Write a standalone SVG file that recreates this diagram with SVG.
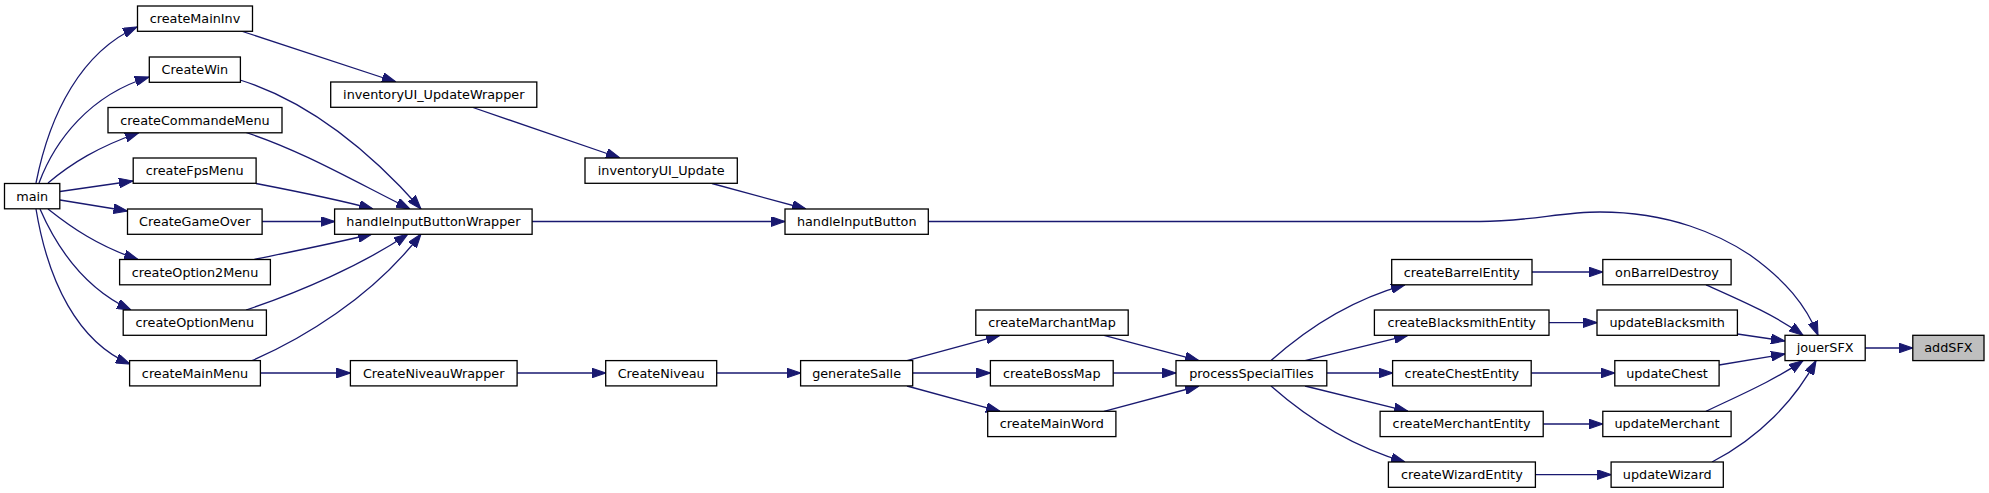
<svg xmlns="http://www.w3.org/2000/svg" width="1989" height="493" viewBox="0 0 1989 493">
<defs>
<style>
.n rect{fill:#ffffff;stroke:#000000;stroke-width:1.3}
.n.hl rect{fill:#bfbfbf}
.n text{font-family:"DejaVu Sans","Liberation Sans",sans-serif;font-size:12.8px;fill:#000000;text-anchor:middle}
.e path{fill:none;stroke:#191970;stroke-width:1.3;marker-end:url(#ah)}
</style>
<marker id="ah" markerUnits="userSpaceOnUse" markerWidth="14" markerHeight="10" viewBox="0 0 13 9" refX="13" refY="4.5" orient="auto">
<path d="M0,0 L13,4.5 L0,9 Z" fill="#191970" stroke="#191970" stroke-width="1"/>
</marker>
</defs>
<rect width="1989" height="493" fill="#ffffff"/>
<g id="connectors" class="e">
<path d="M36,183 C 50,112 82,52 137,27"/>
<path d="M39,183 C 55,140 90,95 149,77"/>
<path d="M48,183 C 72,163 98,147 139,132.5"/>
<path d="M60,191.5 L133,181"/>
<path d="M60,200 L127.5,211"/>
<path d="M48,209 C 72,228 98,246 138,259.5"/>
<path d="M40,209 C 60,255 88,290 131,310"/>
<path d="M36,209 C 48,282 78,342 130,364"/>
<path d="M241,31 L396,82"/>
<path d="M473,107.5 L620,158"/>
<path d="M712,183.5 L806,209"/>
<path d="M240,80 C 320,105 382,165 421,209"/>
<path d="M246,132.5 C 300,150 352,180 410,209"/>
<path d="M256,183.5 C 300,192 340,200 373,209"/>
<path d="M262,221.5 L334.6,221.5"/>
<path d="M254,259.5 C 300,250 340,242 372,234"/>
<path d="M246,310 C 300,292 362,265 408,234"/>
<path d="M252,360.6 C 300,340 372,298 421,234"/>
<path d="M532,221.5 L785,221.5"/>
<path d="M928,221.5 L1480,221.5 C 1530,221.5 1560,212 1600,212 C 1670,212 1720,235 1750,255 C 1785,280 1806,305 1818,335.3"/>
<path d="M260.4,373 L350.4,373"/>
<path d="M517,373 L605.7,373"/>
<path d="M716.7,373 L800.6,373"/>
<path d="M907,360.6 L1000,335.3"/>
<path d="M912.7,373 L990.4,373"/>
<path d="M907,386 L1000,411.3"/>
<path d="M1104,335.3 L1199,360.6"/>
<path d="M1113.2,373 L1176,373"/>
<path d="M1104,411.3 L1199,386"/>
<path d="M1271,360.6 C 1305,330 1350,300 1405,284.8"/>
<path d="M1305,360.6 L1408,335.3"/>
<path d="M1326.8,373 L1392.6,373"/>
<path d="M1305,386 L1408,411.3"/>
<path d="M1271,386 C 1305,416 1350,446 1405,462"/>
<path d="M1532,272 L1602.8,272"/>
<path d="M1549,322.6 L1597,322.6"/>
<path d="M1531.2,373 L1614.8,373"/>
<path d="M1543.2,424 L1602.8,424"/>
<path d="M1535.4,474.6 L1611.1,474.6"/>
<path d="M1706,284.8 C 1740,300 1775,315 1803,335.3"/>
<path d="M1737.4,334 L1785,341"/>
<path d="M1719.1,365 L1785,354"/>
<path d="M1706,411.3 C 1740,395 1775,380 1803,360.6"/>
<path d="M1712,462 C 1760,437 1795,400 1816,360.6"/>
<path d="M1865,348 L1912.8,348"/>
</g>
<g id="node-main" class="n"><rect x="4.5" y="183.5" width="55.3" height="25.3"/><text x="32.2" y="200.5">main</text></g>
<g id="node-createMainInv" class="n"><rect x="137.5" y="6" width="115" height="25.3"/><text x="195" y="23">createMainInv</text></g>
<g id="node-CreateWin" class="n"><rect x="149.3" y="57" width="91.1" height="25.3"/><text x="194.9" y="74">CreateWin</text></g>
<g id="node-inventoryUI_UpdateWrapper" class="n"><rect x="330.7" y="82" width="206.1" height="25.3"/><text x="433.8" y="99">inventoryUI_UpdateWrapper</text></g>
<g id="node-createCommandeMenu" class="n"><rect x="108" y="107.5" width="174" height="25.3"/><text x="195" y="124.5">createCommandeMenu</text></g>
<g id="node-createFpsMenu" class="n"><rect x="133.2" y="158" width="122.9" height="25.3"/><text x="194.7" y="175">createFpsMenu</text></g>
<g id="node-inventoryUI_Update" class="n"><rect x="585" y="158" width="152.3" height="25.3"/><text x="661.2" y="175">inventoryUI_Update</text></g>
<g id="node-CreateGameOver" class="n"><rect x="127.5" y="209" width="134.6" height="25.3"/><text x="194.8" y="226">CreateGameOver</text></g>
<g id="node-handleInputButtonWrapper" class="n"><rect x="334.6" y="209" width="197.5" height="25.3"/><text x="433.4" y="226">handleInputButtonWrapper</text></g>
<g id="node-handleInputButton" class="n"><rect x="785" y="209" width="143.3" height="25.3"/><text x="856.7" y="226">handleInputButton</text></g>
<g id="node-createOption2Menu" class="n"><rect x="119.6" y="259.5" width="150.8" height="25.3"/><text x="195" y="276.5">createOption2Menu</text></g>
<g id="node-createOptionMenu" class="n"><rect x="123.2" y="310" width="143.2" height="25.3"/><text x="194.8" y="327">createOptionMenu</text></g>
<g id="node-createMainMenu" class="n"><rect x="129.6" y="360.6" width="130.8" height="25.3"/><text x="195" y="377.6">createMainMenu</text></g>
<g id="node-CreateNiveauWrapper" class="n"><rect x="350.4" y="360.6" width="166.7" height="25.3"/><text x="433.7" y="377.6">CreateNiveauWrapper</text></g>
<g id="node-CreateNiveau" class="n"><rect x="605.7" y="360.6" width="111" height="25.3"/><text x="661.2" y="377.6">CreateNiveau</text></g>
<g id="node-generateSalle" class="n"><rect x="800.6" y="360.6" width="112.1" height="25.3"/><text x="856.6" y="377.6">generateSalle</text></g>
<g id="node-createMarchantMap" class="n"><rect x="975.8" y="310" width="152.4" height="25.3"/><text x="1052" y="327">createMarchantMap</text></g>
<g id="node-createBossMap" class="n"><rect x="990.4" y="360.6" width="122.8" height="25.3"/><text x="1051.8" y="377.6">createBossMap</text></g>
<g id="node-createMainWord" class="n"><rect x="987.7" y="411.3" width="128.2" height="25.3"/><text x="1051.8" y="428.3">createMainWord</text></g>
<g id="node-processSpecialTiles" class="n"><rect x="1176" y="360.6" width="150.8" height="25.3"/><text x="1251.4" y="377.6">processSpecialTiles</text></g>
<g id="node-createBarrelEntity" class="n"><rect x="1391.7" y="259.5" width="140.3" height="25.3"/><text x="1461.8" y="276.5">createBarrelEntity</text></g>
<g id="node-createBlacksmithEntity" class="n"><rect x="1374.4" y="310" width="174.6" height="25.3"/><text x="1461.7" y="327">createBlacksmithEntity</text></g>
<g id="node-createChestEntity" class="n"><rect x="1392.6" y="360.6" width="138.6" height="25.3"/><text x="1461.9" y="377.6">createChestEntity</text></g>
<g id="node-createMerchantEntity" class="n"><rect x="1380.1" y="411.3" width="163.1" height="25.3"/><text x="1461.6" y="428.3">createMerchantEntity</text></g>
<g id="node-createWizardEntity" class="n"><rect x="1388.4" y="462" width="147" height="25.3"/><text x="1461.9" y="479">createWizardEntity</text></g>
<g id="node-onBarrelDestroy" class="n"><rect x="1602.8" y="259.5" width="128.3" height="25.3"/><text x="1667" y="276.5">onBarrelDestroy</text></g>
<g id="node-updateBlacksmith" class="n"><rect x="1597" y="310" width="140.4" height="25.3"/><text x="1667.2" y="327">updateBlacksmith</text></g>
<g id="node-updateChest" class="n"><rect x="1614.8" y="360.6" width="104.3" height="25.3"/><text x="1667" y="377.6">updateChest</text></g>
<g id="node-updateMerchant" class="n"><rect x="1602.8" y="411.3" width="128.3" height="25.3"/><text x="1667" y="428.3">updateMerchant</text></g>
<g id="node-updateWizard" class="n"><rect x="1611.1" y="462" width="112.2" height="25.3"/><text x="1667.2" y="479">updateWizard</text></g>
<g id="node-jouerSFX" class="n"><rect x="1785" y="335.3" width="80.2" height="25.3"/><text x="1825.1" y="352.3">jouerSFX</text></g>
<g id="node-addSFX" class="n hl"><rect x="1912.8" y="335.3" width="71.2" height="25.3"/><text x="1948.4" y="352.3">addSFX</text></g>
</svg>
